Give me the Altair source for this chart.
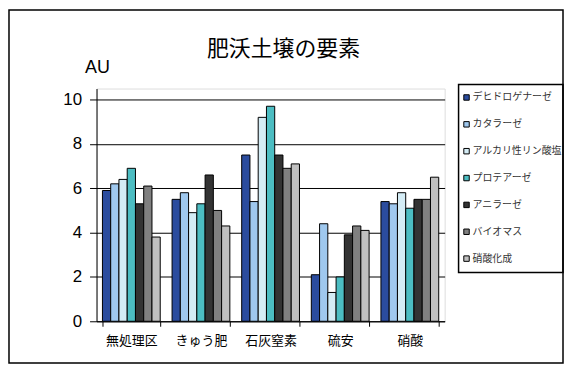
import altair as alt
import pandas as pd

categories = ["無処理区", "きゅう肥", "石灰窒素", "硫安", "硝酸"]
series = ["デヒドロゲナーゼ", "カタラーゼ", "アルカリ性リン酸塩", "プロテアーゼ", "アニラーゼ", "バイオマス", "硝酸化成"]
colors = ["#2B4C9E", "#9FC8EE", "#D4ECF5", "#4CBDC2", "#333333", "#808080", "#C0C0C0"]

v_dehydro = [5.9, 5.5, 7.5, 2.1, 5.4]
v_catalase = [6.2, 5.8, 5.4, 4.4, 5.3]
v_alkaline = [6.4, 4.9, 9.2, 1.3, 5.8]
v_protease = [6.9, 5.3, 9.7, 2.0, 5.1]
v_anilase = [5.3, 6.6, 7.5, 3.9, 5.5]
v_biomass = [6.1, 5.0, 6.9, 4.3, 5.5]
v_nitrif = [3.8, 4.3, 7.1, 4.1, 6.5]

y_ticks = [0, 2, 4, 6, 8, 10]
title_text = "肥沃土壌の要素"
unit_text = "AU"

all_vals = [v_dehydro, v_catalase, v_alkaline, v_protease, v_anilase, v_biomass, v_nitrif]
rows = []
for s, vals in zip(series, all_vals):
    for c, v in zip(categories, vals):
        rows.append({"cat": c, "series": s, "value": v})
df = pd.DataFrame(rows)

JP = "Noto Sans CJK JP"

bars = alt.Chart(df).mark_bar(stroke="black", strokeWidth=1).encode(
    x=alt.X("cat:N", sort=categories, title=None,
            scale=alt.Scale(paddingInner=0.17, paddingOuter=0.085),
            axis=alt.Axis(labelAngle=0, tickBand="extent", tickSize=5, labelPadding=8,
                          labelFont=JP, labelFontSize=13, labelColor="black",
                          domainColor="black", tickColor="black", grid=False)),
    xOffset=alt.XOffset("series:N", sort=series, scale=alt.Scale(paddingInner=0, paddingOuter=0)),
    y=alt.Y("value:Q", title=None,
            scale=alt.Scale(domain=[0, 10.5], nice=False),
            axis=alt.Axis(values=y_ticks, tickSize=7, labelPadding=8,
                          labelFont="Liberation Sans", labelFontSize=17, labelColor="black",
                          domainColor="black", tickColor="black",
                          grid=True, gridColor="black", gridWidth=1)),
    color=alt.Color("series:N", sort=series,
                    scale=alt.Scale(domain=series, range=colors),
                    legend=alt.Legend(title=None, orient="none", legendX=367, legendY=4,
                                      symbolType="square", symbolSize=30,
                                      symbolStrokeColor="black", symbolStrokeWidth=1,
                                      labelFont=JP, labelFontSize=10, labelColor="#333333",
                                      labelOffset=1, rowPadding=17, padding=0,
                                      labelLimit=200)),
)

title_layer = alt.Chart(pd.DataFrame({"t": [title_text]})).mark_text(
    font=JP, fontSize=22, color="black", align="center", baseline="middle"
).encode(x=alt.value(188), y=alt.value(-40), text="t:N")

unit_layer = alt.Chart(pd.DataFrame({"t": [unit_text]})).mark_text(
    font="Liberation Sans", fontSize=18, color="black", align="center", baseline="middle"
).encode(x=alt.value(1), y=alt.value(-21), text="t:N")

border = alt.Chart(pd.DataFrame({"t": [0]})).mark_rect(
    fill=None, fillOpacity=0, stroke="black", strokeWidth=1.5
).encode(x=alt.value(-88), x2=alt.value(469), y=alt.value(-79), y2=alt.value(276))

legend_box = alt.Chart(pd.DataFrame({"t": [0]})).mark_rect(
    fill=None, fillOpacity=0, stroke="black", strokeWidth=1.5
).encode(x=alt.value(364), x2=alt.value(469), y=alt.value(-4), y2=alt.value(185))

chart = alt.layer(bars, title_layer, unit_layer, border, legend_box).properties(
    width=350, height=234,
    autosize=alt.AutoSizeParams(type="none"),
    padding={"left": 89, "top": 80, "right": 120, "bottom": 43},
).configure_view(stroke=None).configure(background="white")

chart.save("out.html", embed_options={"renderer": "svg", "actions": False})
